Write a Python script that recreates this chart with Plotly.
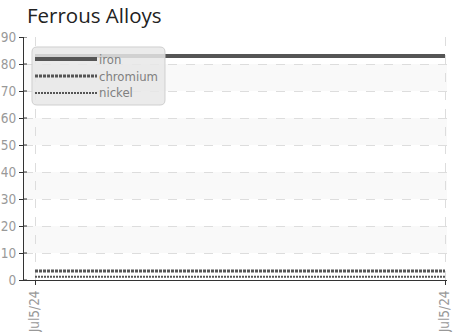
import plotly.graph_objects as go

# ---- data ----
tick_labels = ["Jul5/24", "Jul5/24"]
x_pos = [0, 1]
series_names = ["iron", "chromium", "nickel"]
iron = [83, 83]
chromium = [3.3, 3.3]
nickel = [1.2, 1.2]
y_ticks = [0, 10, 20, 30, 40, 50, 60, 70, 80, 90]

line_color = "#555555"
styles = [
    dict(width=4, dash="solid"),
    dict(width=3, dash="3px,1px"),
    dict(width=2, dash="2px,1px"),
]
values = [iron, chromium, nickel]

fig = go.Figure()
for name, vals, st in zip(series_names, values, styles):
    fig.add_trace(go.Scatter(x=x_pos, y=vals, mode="lines", name=name,
                             line=dict(color=line_color, width=st["width"], dash=st["dash"]),
                             showlegend=False))

W, H = 453, 332
ml, mr, mt, mb = 24, 6, 37, 52
pw, ph = W - ml - mr, H - mt - mb

def px_x(p):
    return (p - ml) / pw

def px_y(p):
    return (H - mb - p) / ph

shapes = []
for lo in [10, 30, 50, 70]:
    shapes.append(dict(type="rect", xref="paper", yref="y", x0=0, x1=1, y0=lo, y1=lo + 10,
                       fillcolor="#f9f9f9", line=dict(width=0), layer="below"))

# crossing tick marks on the y axis (inner half)
for t in y_ticks:
    shapes.append(dict(type="line", xref="paper", yref="y", x0=0, x1=px_x(ml + 3), y0=t, y1=t,
                       line=dict(color="#333333", width=1), layer="above"))

x0, x1, y0, y1 = 32, 165, 47, 105
r = 5
def P(x, y):
    return f"{px_x(x):.5f},{px_y(y):.5f}"
path = (f"M {P(x0+r,y0)} L {P(x1-r,y0)} Q {P(x1,y0)} {P(x1,y0+r)} "
        f"L {P(x1,y1-r)} Q {P(x1,y1)} {P(x1-r,y1)} L {P(x0+r,y1)} "
        f"Q {P(x0,y1)} {P(x0,y1-r)} L {P(x0,y0+r)} Q {P(x0,y0)} {P(x0+r,y0)} Z")
shapes.append(dict(type="path", xref="paper", yref="paper", path=path,
                   fillcolor="rgba(232,232,232,0.85)", line=dict(color="#cfcfcf", width=1),
                   layer="above"))

cond = "DejaVu Sans Condensed, Liberation Sans Narrow, Roboto, sans-serif"
annotations = []
leg_y = [59, 76, 93]
for name, st, ly in zip(series_names, styles, leg_y):
    shapes.append(dict(type="line", xref="paper", yref="paper",
                       x0=px_x(35), x1=px_x(97), y0=px_y(ly), y1=px_y(ly),
                       line=dict(color=line_color, width=st["width"], dash=st["dash"]),
                       layer="above"))
    annotations.append(dict(xref="paper", yref="paper", x=px_x(97), y=px_y(ly),
                            xanchor="left", yanchor="middle", text=name, showarrow=False,
                            font=dict(family=cond, size=13, color="#808080")))

tick_font = dict(family=cond, size=13.5, color="#999999")

fig.update_layout(
    width=W, height=H,
    margin=dict(l=ml, r=mr, t=mt, b=mb, autoexpand=False),
    paper_bgcolor="white", plot_bgcolor="white",
    title=dict(text="Ferrous Alloys", x=27 / W, xanchor="left", y=1 - 16 / H, yanchor="middle",
               font=dict(family="Open Sans, sans-serif", size=20.5, color="#222222")),
    shapes=shapes, annotations=annotations,
    xaxis=dict(range=[-11 / 410, 1 + 2 / 410], tickvals=x_pos, ticktext=tick_labels,
               tickangle=-90, tickfont=tick_font, showgrid=True, gridcolor="#dddddd",
               griddash="dash", gridwidth=1, showline=True, linecolor="#333333", linewidth=1,
               ticks="outside", ticklen=4, tickcolor="#333333", zeroline=False,
               automargin=False),
    yaxis=dict(range=[0, 90], tickvals=y_ticks, tickfont=tick_font, showgrid=True,
               gridcolor="#dddddd", griddash="dash", gridwidth=1, showline=True,
               linecolor="#333333", linewidth=1, ticks="outside", ticklen=4,
               tickcolor="#333333", zeroline=False, automargin=False),
)

fig.write_html("out.html", config={"displayModeBar": False},
               post_script="document.body.style.margin='0';document.body.style.overflow='hidden';")
